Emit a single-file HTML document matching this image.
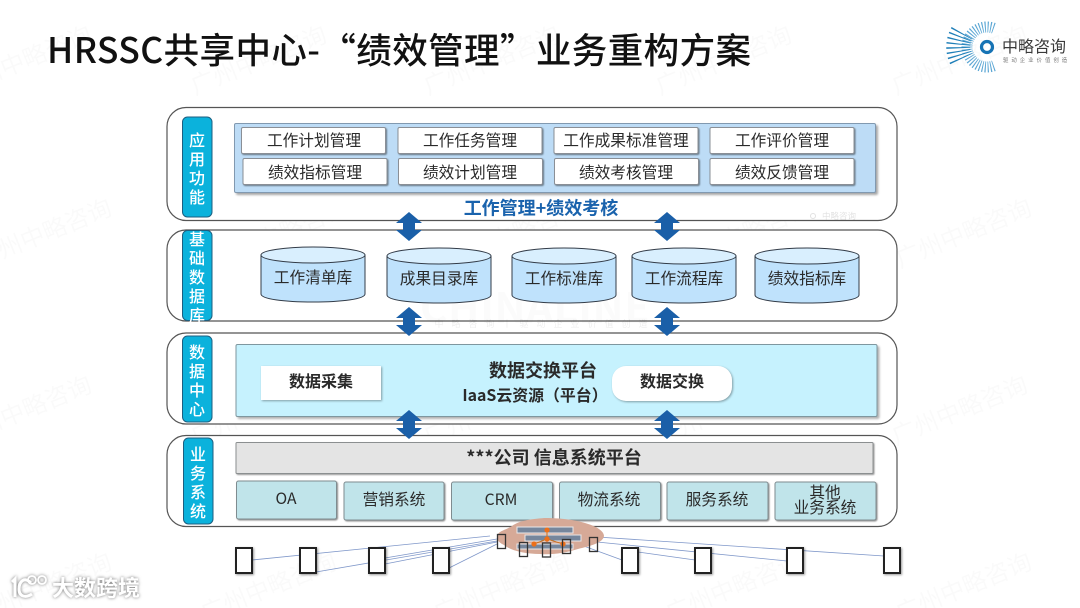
<!DOCTYPE html>
<html lang="zh-CN"><head><meta charset="utf-8"><title>HRSSC</title>
<style>
html,body{margin:0;padding:0;background:#fff}
svg{display:block}
text{font-family:"Liberation Sans","Noto Sans CJK SC",sans-serif;}
.n{font-family:"Noto Sans CJK SC","Liberation Sans",sans-serif}
.o{fill:#fff;stroke:#555;stroke-width:1.2}
.s{fill:#0bb2dc;stroke:#1d5f80;stroke-width:1}
.st{fill:#fff;font-size:16px;font-weight:500;text-anchor:middle;font-family:"Noto Sans CJK SC",sans-serif}
.b{fill:#fff;stroke:#8a8f96;stroke-width:1;filter:drop-shadow(1.5px 1.5px .7px rgba(0,0,0,.45))}
.t{fill:#2a2a2a;font-size:15.7px;text-anchor:middle;font-family:"Noto Sans CJK SC",sans-serif}
.c{fill:#bfe2fc;stroke:#333c48;stroke-width:1}
.ct{fill:#d9effe;stroke:#333c48;stroke-width:1}
.e{fill:#c0e4ea;stroke:#7f8c90;stroke-width:1;filter:drop-shadow(1.5px 1.5px .7px rgba(0,0,0,.45))}
.w{fill:#000;fill-opacity:.018;font-size:24px;font-family:"Noto Sans CJK SC",sans-serif}
.d{fill:#fff;stroke:#222;stroke-width:2;filter:drop-shadow(1.5px 1.5px 1px rgba(0,0,0,.4))}
.ds{fill:none;stroke:#333;stroke-width:1.3}
.l{stroke:#7f97c9;stroke-width:.8;fill:none}
</style></head><body>
<svg width="1080" height="608" viewBox="0 0 1080 608" xmlns="http://www.w3.org/2000/svg">
<rect width="1080" height="608" fill="#fff"/>

<!-- watermarks -->
<g class="w">
<text transform="translate(-40,95) rotate(-22)">广州中略咨询</text>
<text transform="translate(195,95) rotate(-22)">广州中略咨询</text>
<text transform="translate(428,95) rotate(-22)">广州中略咨询</text>
<text transform="translate(660,95) rotate(-22)">广州中略咨询</text>
<text transform="translate(896,95) rotate(-22)">广州中略咨询</text>
<text transform="translate(-20,268) rotate(-22)">广州中略咨询</text>
<text transform="translate(217,268) rotate(-22)">广州中略咨询</text>
<text transform="translate(450,268) rotate(-22)">广州中略咨询</text>
<text transform="translate(680,268) rotate(-22)">广州中略咨询</text>
<text transform="translate(900,268) rotate(-22)">广州中略咨询</text>
<text transform="translate(-40,445) rotate(-22)">广州中略咨询</text>
<text transform="translate(195,445) rotate(-22)">广州中略咨询</text>
<text transform="translate(428,445) rotate(-22)">广州中略咨询</text>
<text transform="translate(660,445) rotate(-22)">广州中略咨询</text>
<text transform="translate(896,445) rotate(-22)">广州中略咨询</text>
<text transform="translate(-20,622) rotate(-22)">广州中略咨询</text>
<text transform="translate(205,622) rotate(-22)">广州中略咨询</text>
<text transform="translate(438,622) rotate(-22)">广州中略咨询</text>
<text transform="translate(670,622) rotate(-22)">广州中略咨询</text>
<text transform="translate(900,622) rotate(-22)">广州中略咨询</text>
</g>

<!-- title -->
<text class="n" x="47" y="63" font-size="35.5" font-weight="500" fill="#111" textLength="704">HRSSC共享中心-“绩效管理”业务重构方案</text>

<!-- logo -->
<g fill="none">
<path d="M993.8 28.2A20 20 0 1 0 993.8 65.8" stroke="#5aa6d4" stroke-width="11" stroke-dasharray="1 1.7"/>
<path d="M962 33A28 28 0 0 0 962 61" stroke="#1f7fb8" stroke-width="24" stroke-dasharray="1.1 2.6"/>
<circle cx="987" cy="47" r="5.5" stroke="#1673b4" stroke-width="3.2"/>
</g>
<text class="n" x="1002" y="52" font-size="16" fill="#3a3a3a">中略咨询</text>
<text class="n" x="1003" y="62" font-size="5.4" fill="#777" letter-spacing="3">驱动企业价值创造</text>

<!-- outer rows -->
<rect class="o" x="167" y="107.5" width="730" height="113" rx="19"/>
<rect class="o" x="167" y="230" width="730" height="91" rx="19"/>
<rect class="o" x="167" y="333" width="730" height="91" rx="19"/>
<rect class="o" x="167" y="435.5" width="730" height="91" rx="19"/>

<!-- faint centre watermark -->
<text class="n" x="535" y="323" font-size="42" font-weight="700" fill="#000" fill-opacity=".015" text-anchor="middle" textLength="230">CHINALINE</text>
<text class="n" x="545" y="327" font-size="9" fill="#000" fill-opacity=".07" text-anchor="middle" letter-spacing="8">中略咨询丨驱动企业价值创造</text>
<!-- small logo watermarks -->
<g fill="#000" fill-opacity=".12">
<text class="n" x="822" y="219" font-size="8.5">中略咨询</text>
</g>
<circle cx="813" cy="216" r="2.5" fill="none" stroke="#000" stroke-opacity=".12" stroke-width="1"/>

<!-- side labels -->
<rect class="s" x="182.5" y="117" width="29.5" height="100" rx="5"/>
<text class="st" x="197" y="146">应</text><text class="st" x="197" y="165">用</text><text class="st" x="197" y="184">功</text><text class="st" x="197" y="203">能</text>
<rect class="s" x="182.5" y="230.5" width="29.5" height="90" rx="5"/>
<text class="st" x="197" y="245">基</text><text class="st" x="197" y="264">础</text><text class="st" x="197" y="283">数</text><text class="st" x="197" y="302">据</text><text class="st" x="197" y="321">库</text>
<rect class="s" x="182.5" y="336" width="29.5" height="86" rx="5"/>
<text class="st" x="197" y="358">数</text><text class="st" x="197" y="377">据</text><text class="st" x="197" y="396">中</text><text class="st" x="197" y="415">心</text>
<rect class="s" x="183.5" y="438" width="29.5" height="86" rx="5"/>
<text class="st" x="198" y="460">业</text><text class="st" x="198" y="479">务</text><text class="st" x="198" y="498">系</text><text class="st" x="198" y="517">统</text>

<!-- row 1 -->
<rect x="234.5" y="123.5" width="641" height="69" rx="1.5" fill="#bddcf6" stroke="#8199b0" style="filter:drop-shadow(2px 2px 1px rgba(0,0,0,.35))"/>
<rect class="b" x="241.5" y="127.5" width="144" height="26" rx="1.5"/><text class="t" x="314" y="146">工作计划管理</text>
<rect class="b" x="398" y="127.5" width="144" height="26" rx="1.5"/><text class="t" x="470" y="146">工作任务管理</text>
<rect class="b" x="554" y="127.5" width="144" height="26" rx="1.5"/><text class="t" x="626" y="146">工作成果标准管理</text>
<rect class="b" x="710" y="127.5" width="144" height="26" rx="1.5"/><text class="t" x="782" y="146">工作评价管理</text>
<rect class="b" x="243" y="158.5" width="144" height="26" rx="1.5"/><text class="t" x="315" y="178">绩效指标管理</text>
<rect class="b" x="398.5" y="158.5" width="144" height="26" rx="1.5"/><text class="t" x="470" y="178">绩效计划管理</text>
<rect class="b" x="554.5" y="158.5" width="144" height="26" rx="1.5"/><text class="t" x="626" y="178">绩效考核管理</text>
<rect class="b" x="710" y="158.5" width="144" height="26" rx="1.5"/><text class="t" x="782" y="178">绩效反馈管理</text>
<text class="n" x="541" y="214.5" font-size="18" font-weight="700" fill="#1a63ad" text-anchor="middle">工作管理+绩效考核</text>

<!-- cylinders -->
<g id="cy">
<path class="c" d="M261 255V294C261 299 284 302 313 302S365 299 365 294V255Z"/><ellipse class="ct" cx="313" cy="255" rx="52" ry="8"/>
<text class="t" x="313" y="283">工作清单库</text>
<path class="c" d="M387 256V295C387 300 410 303 439 303S491 300 491 295V256Z"/><ellipse class="ct" cx="439" cy="256" rx="52" ry="8"/>
<text class="t" x="439" y="284">成果目录库</text>
<path class="c" d="M512 256V295C512 300 535 303 564 303S616 300 616 295V256Z"/><ellipse class="ct" cx="564" cy="256" rx="52" ry="8"/>
<text class="t" x="564" y="284">工作标准库</text>
<path class="c" d="M632 256V295C632 300 655 303 684 303S736 300 736 295V256Z"/><ellipse class="ct" cx="684" cy="256" rx="52" ry="8"/>
<text class="t" x="684" y="284">工作流程库</text>
<path class="c" d="M755 256V295C755 300 778 303 807 303S859 300 859 295V256Z"/><ellipse class="ct" cx="807" cy="256" rx="52" ry="8"/>
<text class="t" x="807" y="284">绩效指标库</text>
</g>

<!-- row 3 -->
<rect x="236" y="344.5" width="641" height="72" rx="1.5" fill="#c6f2fe" stroke="#7f979f" style="filter:drop-shadow(2px 2px 1px rgba(0,0,0,.3))"/>
<rect x="261" y="366" width="120" height="34" fill="#fff" style="filter:drop-shadow(1.5px 1.5px 1px rgba(0,0,0,.35))"/>
<text class="t" x="321" y="387" style="font-weight:700;font-size:16px">数据采集</text>
<rect x="612" y="366" width="120" height="35" rx="14" fill="#fff" style="filter:drop-shadow(1.5px 1.5px 1px rgba(0,0,0,.35))"/>
<text class="t" x="672" y="387" style="font-weight:700;font-size:16px">数据交换</text>
<text class="t" x="543" y="377" style="font-weight:700;font-size:18px">数据交换平台</text>
<text class="t" x="535" y="401" style="font-weight:700;font-size:15.9px">IaaS云资源（平台）</text>

<!-- row 4 -->
<rect x="236" y="442.5" width="637" height="31" rx="1" fill="#e4e4e4" stroke="#8b8f90" style="filter:drop-shadow(1.5px 1.5px .7px rgba(0,0,0,.4))"/>
<text class="t" x="554" y="464" style="font-weight:700;font-size:18px">***公司 信息系统平台</text>
<rect class="e" x="236.5" y="481" width="100" height="38" rx="2"/><text class="t" x="286" y="504">OA</text>
<rect class="e" x="344" y="482" width="100" height="38" rx="2"/><text class="t" x="394" y="505">营销系统</text>
<rect class="e" x="451.5" y="482" width="101" height="38" rx="2"/><text class="t" x="501" y="505">CRM</text>
<rect class="e" x="559.5" y="482" width="101" height="38" rx="2"/><text class="t" x="609" y="505">物流系统</text>
<rect class="e" x="667" y="482" width="101" height="38" rx="2"/><text class="t" x="717" y="505">服务系统</text>
<rect class="e" x="775" y="482" width="101" height="38" rx="2"/>
<text class="t" x="825" y="498">其他</text><text class="t" x="825" y="513">业务系统</text>

<!-- double arrows -->
<g fill="#1a5fa8">
<path d="M409 212L422 223H415V230H422L409 241L396 230H403V223H396Z"/>
<path d="M667 212L680 223H673V230H680L667 241L654 230H661V223H654Z"/>
<path d="M409 307L422 318H415V325H422L409 336L396 325H403V318H396Z"/>
<path d="M667 307L680 318H673V325H680L667 336L654 325H661V318H654Z"/>
<path d="M409 410L422 421H415V428H422L409 439L396 428H403V421H396Z"/>
<path d="M667 410L680 421H673V428H680L667 439L654 428H661V421H654Z"/>
</g>

<!-- bottom network -->
<path class="l" d="M252 560L490 536M316 572L497 541M385 564L497 542M449 568L497 544M385 558L497 539"/>
<path class="l" d="M597 537L884 556M597 542L787 561M570 541L622 560M638 552L695 560"/>
<path d="M497 537C497 531 506 530 512 526C520 520 533 519 544 518C556 518 572 519 585 523C596 526 604 531 604 536C603 543 590 546 578 549C565 553 552 555 540 554C524 554 510 550 504 545C500 543 497 541 497 537Z" fill="#d6a997"/>
<g fill="#76869c" stroke="#e8e8ea" stroke-width="1">
<rect x="517" y="527" width="56" height="6"/>
<rect x="525" y="535" width="56" height="6"/>
<rect x="517" y="544" width="56" height="5"/>
</g>
<path d="M547 530V539M534 544L547 539L563 544" stroke="#c9701f" stroke-width="1" fill="none"/>
<g fill="#ec6f1a"><circle cx="547" cy="530" r="2.6"/><circle cx="547" cy="539" r="2.6"/><circle cx="534" cy="544" r="2.6"/><circle cx="563" cy="544" r="2.6"/></g>
<g class="ds">
<rect x="497.5" y="534.5" width="8" height="14" fill="none"/>
<rect x="519.5" y="542.5" width="8" height="14"/>
<rect x="542.5" y="543" width="8" height="14"/>
<rect x="562.5" y="539.5" width="8" height="14"/>
<rect x="589.5" y="537.5" width="8" height="14"/>
</g>
<g>
<rect class="d" x="236" y="548" width="16" height="25"/>
<rect class="d" x="300" y="548" width="16" height="25"/>
<rect class="d" x="369" y="548" width="16" height="25"/>
<rect class="d" x="433" y="548" width="16" height="25"/>
<rect class="d" x="622" y="548" width="16" height="25"/>
<rect class="d" x="695" y="548" width="16" height="25"/>
<rect class="d" x="787" y="548" width="16" height="25"/>
<rect class="d" x="884" y="548" width="16" height="25"/>
</g>

<!-- bottom-left brand -->
<g style="filter:drop-shadow(0 0 1.5px rgba(0,0,0,.55))">
<path d="M12 582L15 579V597M31 583C24 576 19 582 19 589C19 597 26 598 32 594" fill="none" stroke="#fff" stroke-width="3"/>
<circle cx="32" cy="580" r="4" fill="none" stroke="#fff" stroke-width="1.8"/>
<circle cx="42" cy="580" r="4" fill="none" stroke="#fff" stroke-width="1.8"/>
<text class="n" x="52" y="596" font-size="22" font-weight="700" fill="#fff">大数跨境</text>
</g>
</svg>
</body></html>
